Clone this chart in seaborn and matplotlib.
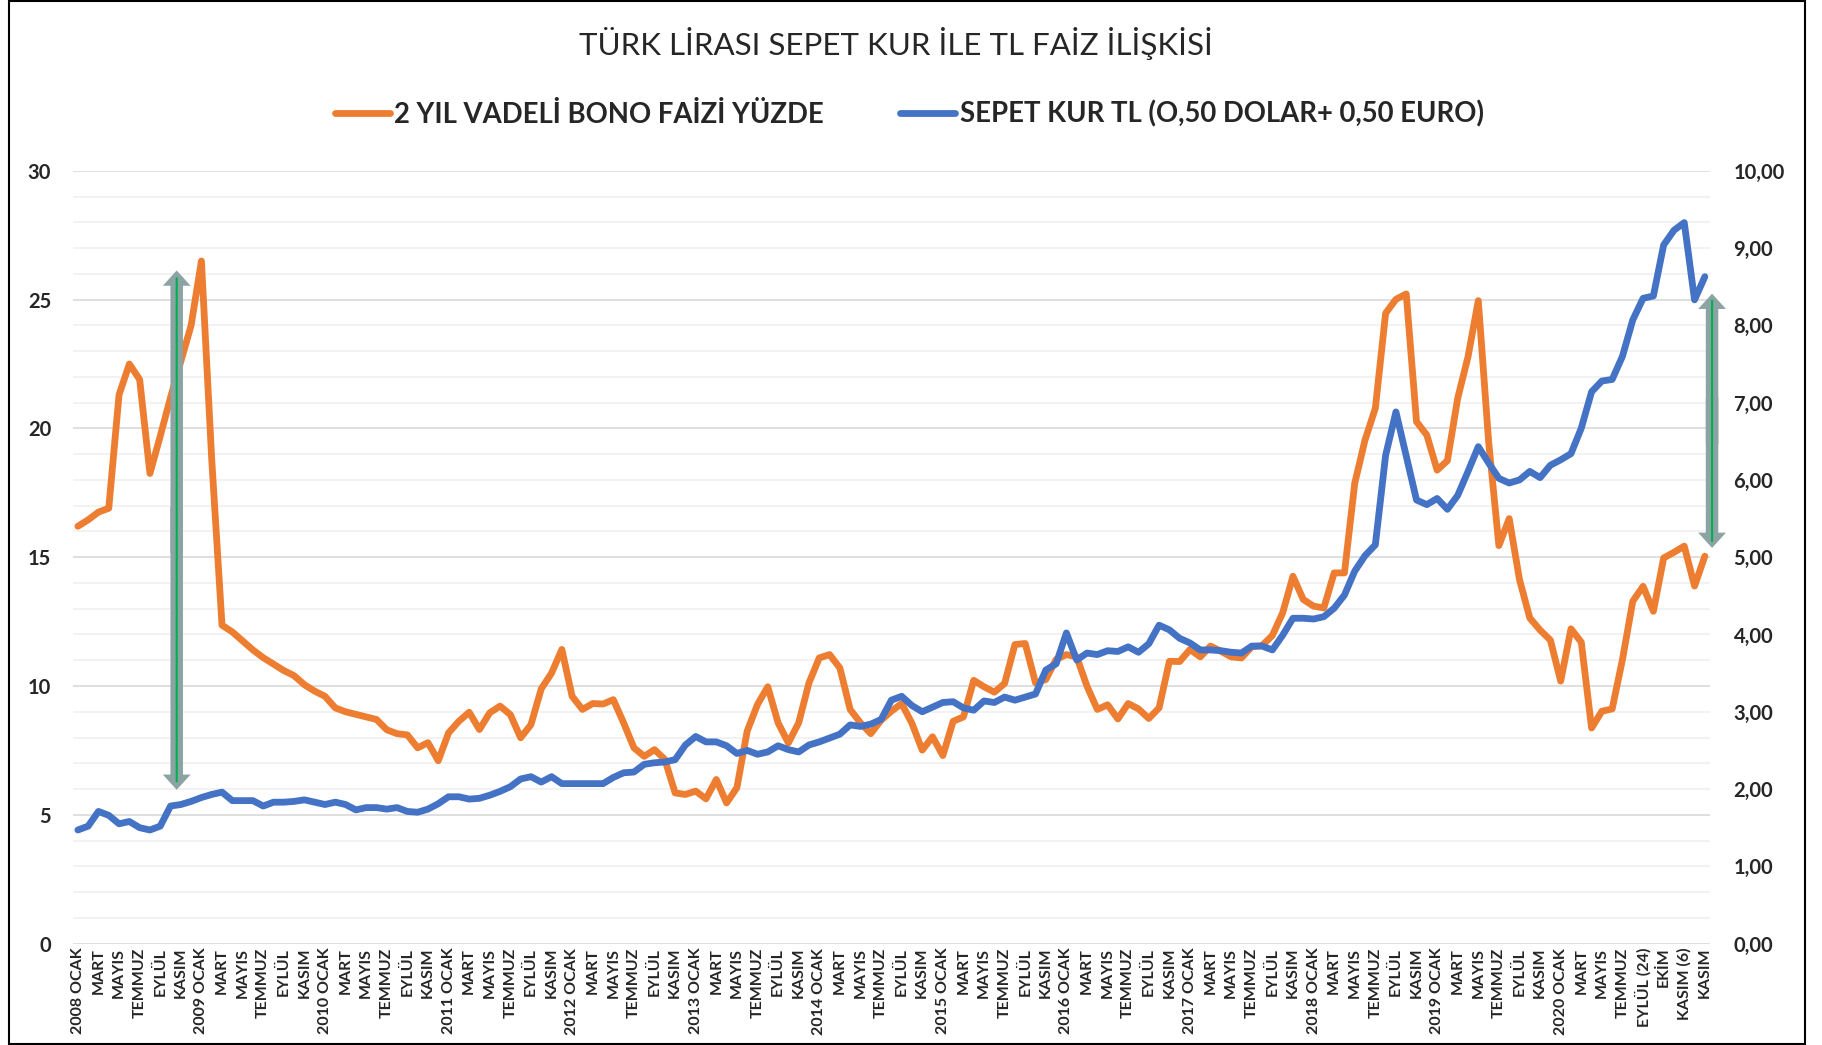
import pandas as pd
import matplotlib
matplotlib.use("Agg")
import matplotlib.pyplot as plt
import seaborn as sns
from matplotlib.ticker import MultipleLocator, FuncFormatter
from matplotlib.lines import Line2D
from matplotlib.patches import Rectangle

# ---------------- data ----------------
years = list(range(2008, 2021))
month_names = ["OCAK", "ŞUBAT", "MART", "NİSAN", "MAYIS", "HAZİRAN",
               "TEMMUZ", "AĞUSTOS", "EYLÜL", "EKİM", "KASIM", "ARALIK"]
tail_labels = ["AĞUSTOS", "EYLÜL (24)", "", "EKİM", "", "KASIM (6)", "", "KASIM"]

# 2 yil vadeli bono faizi (%), left axis
bono_faizi = [
    16.2, 16.45, 16.75, 16.9, 21.3, 22.5, 21.9, 18.25, 19.7, 21.2, 22.6, 24.0, 26.5, 18.8,
    12.36, 12.1, 11.75, 11.4, 11.1, 10.85, 10.6, 10.4, 10.05, 9.8, 9.6, 9.15, 9.0, 8.9,
    8.8, 8.7, 8.3, 8.15, 8.1, 7.6, 7.8, 7.1,
    8.18, 8.63, 8.98, 8.31, 8.96, 9.22, 8.89, 7.99, 8.5, 9.89, 10.5, 11.42, 9.6, 9.09,
    9.32, 9.3, 9.47, 8.57, 7.6, 7.27, 7.53, 7.15, 5.85, 5.79, 5.92, 5.62, 6.37, 5.46,
    6.05, 8.25, 9.28, 9.97, 8.57, 7.79, 8.57, 10.12, 11.09, 11.22, 10.7, 9.09, 8.57, 8.15,
    8.67, 9.02, 9.32, 8.55,
    7.51, 8.03, 7.30, 8.63, 8.80, 10.22, 9.97, 9.76, 10.10, 11.61, 11.65, 10.12, 10.25,
    11.03, 11.22, 11.13, 9.99, 9.09, 9.27, 8.72, 9.32, 9.11, 8.74, 9.15, 10.96, 10.95,
    11.42, 11.13, 11.55, 11.35, 11.13, 11.09, 11.52, 11.57, 11.96, 12.84, 14.26, 13.36,
    13.10, 13.03, 14.39, 14.39,
    17.87, 19.55, 20.78, 24.47, 25.01, 25.22, 20.26, 19.74, 18.38, 18.75, 21.17, 22.78,
    24.96, 19.5, 15.45, 16.5, 14.13, 12.64, 12.17, 11.78, 10.19, 12.22, 11.70, 8.37,
    9.02, 9.11, 11.03, 13.29, 13.87, 12.90, 14.97, 15.19, 15.43, 13.88, 15.04,
]

# sepet kur TL (0,50 dolar + 0,50 euro), right axis
sepet_kur = [
    1.47, 1.52, 1.71, 1.66, 1.55, 1.58, 1.50, 1.47, 1.52, 1.78, 1.80, 1.84, 1.89, 1.93,
    1.96, 1.85, 1.85, 1.85, 1.78, 1.83, 1.83, 1.84, 1.86, 1.83, 1.80, 1.83, 1.80, 1.73,
    1.76, 1.76, 1.74, 1.76, 1.71, 1.70, 1.74, 1.81,
    1.90, 1.90, 1.87, 1.88, 1.92, 1.97, 2.03, 2.13, 2.16, 2.09, 2.16, 2.07, 2.07, 2.07,
    2.07, 2.07, 2.15, 2.21, 2.22, 2.32, 2.34, 2.35, 2.38, 2.57, 2.68, 2.61, 2.61, 2.56,
    2.46, 2.50, 2.45, 2.48, 2.56, 2.51, 2.48, 2.57, 2.61, 2.66, 2.71, 2.83, 2.81, 2.84,
    2.90, 3.15, 3.20, 3.08,
    3.00, 3.06, 3.12, 3.13, 3.05, 3.02, 3.14, 3.12, 3.19, 3.15, 3.19, 3.23, 3.54, 3.62,
    4.02, 3.67, 3.76, 3.74, 3.79, 3.78, 3.84, 3.77, 3.88, 4.12, 4.06, 3.95, 3.89, 3.80,
    3.80, 3.79, 3.77, 3.76, 3.85, 3.85, 3.80, 3.99, 4.21, 4.21, 4.20, 4.23, 4.34, 4.51,
    4.82, 5.02, 5.16, 6.32, 6.88, 6.31, 5.74, 5.68, 5.76, 5.62, 5.80, 6.11, 6.43, 6.22,
    6.02, 5.96, 6.00, 6.11, 6.03, 6.19, 6.26, 6.34, 6.67, 7.14, 7.28, 7.30, 7.60, 8.07,
    8.35, 8.38, 9.04, 9.23, 9.33, 8.33, 8.63,
]

# category labels: "2008 OCAK", "ŞUBAT", ... up to 2020 TEMMUZ, then the extra autumn points
labels = []
for y in years:
    for m, name in enumerate(month_names):
        if y == 2020 and m > 6:
            break
        labels.append(f"{y} {name}" if m == 0 else name)
labels += tail_labels

df = pd.DataFrame({"idx": range(len(labels)), "donem": labels,
                   "bono": bono_faizi, "sepet": sepet_kur})

ORANGE = "#ED7D31"
BLUE = "#4472C4"
ARROW_GREY = "#8BA3A3"
ARROW_GREEN = "#00B050"

sns.set_theme(style="white")
plt.rcParams["font.family"] = ["Lato", "DejaVu Sans"]
plt.rcParams["font.weight"] = "bold"

W, H = 1822, 1045
fig = plt.figure(figsize=(W / 100, H / 100), dpi=100)
ax = fig.add_axes([72.7 / W, 1 - 943.6 / H, (1710 - 72.7) / W, (943.6 - 170.8) / H])
ax2 = ax.twinx()

line_kw = dict(linewidth=4.9, solid_joinstyle="round", solid_capstyle="round")
sns.lineplot(data=df, x="idx", y="bono", ax=ax, color=ORANGE, **line_kw)
sns.lineplot(data=df, x="idx", y="sepet", ax=ax2, color=BLUE, **line_kw)

ax.set_xlim(-0.5, len(labels) - 0.5)
ax.set_ylim(0, 30)
ax2.set_ylim(0, 10)

ax.set_xticks(df["idx"][::2])
ax.set_xticklabels(df["donem"][::2], rotation=90, fontsize=11.5)
ax.yaxis.set_major_locator(MultipleLocator(5))
ax.yaxis.set_minor_locator(MultipleLocator(1))
ax2.yaxis.set_major_locator(MultipleLocator(1))
ax2.yaxis.set_major_formatter(FuncFormatter(lambda v, _: f"{v:.2f}".replace(".", ",")))

ax.set_axisbelow(True)
ax.grid(which="major", axis="y", color="#d9d9d9", linewidth=1.2)
ax.grid(which="minor", axis="y", color="#f0f0f0", linewidth=1.2)
ax.grid(axis="x", visible=False)
ax2.grid(False)

ax.tick_params(axis="x", length=0, pad=3)
ax.tick_params(axis="y", which="both", length=0, pad=15.5, labelsize=14.5)
ax2.tick_params(axis="y", length=0, pad=17, labelsize=14.5)
for a in (ax, ax2):
    a.set_xlabel("")
    a.set_ylabel("")
    for s in a.spines.values():
        s.set_visible(False)

# double headed arrows (right axis units)
arrows = [(9.6, 8.71, 1.99, 8.61, 2.10), (158.7, 8.41, 5.12, 8.32, 5.21)]
head = "simple,head_length=1.1,head_width=2.0,tail_width=0.9"
for x, top, bot, g_top, g_bot in arrows:
    mid = (top + bot) / 2
    for tip, start in ((top, mid - 0.3), (bot, mid + 0.3)):
        ax2.annotate("", xy=(x, tip), xytext=(x, start),
                     arrowprops=dict(arrowstyle=head, mutation_scale=10, color=ARROW_GREY,
                                     lw=0, shrinkA=0, shrinkB=0),
                     annotation_clip=False)
    ax2.annotate("", xy=(x, g_top), xytext=(x, g_bot),
                 arrowprops=dict(arrowstyle="-", color=ARROW_GREEN, lw=1.5,
                                 shrinkA=0, shrinkB=0),
                 annotation_clip=False)

fig.text(896 / W, 1 - 44 / H, "TÜRK LİRASI SEPET KUR İLE TL FAİZ İLİŞKİSİ",
         ha="center", va="center", fontsize=22.5, fontweight="normal")

handles = [Line2D([], [], color=ORANGE, lw=4.9, solid_capstyle="round"),
           Line2D([], [], color=BLUE, lw=4.9, solid_capstyle="round")]
fig.legend(handles, ["2 YIL VADELİ BONO FAİZİ YÜZDE", "SEPET KUR TL (O,50 DOLAR+ 0,50 EURO)"],
           loc="center", bbox_to_anchor=(909 / W, 1 - 114 / H), ncol=2, frameon=False,
           handlelength=2.0, handletextpad=0.15, columnspacing=2.8,
           prop=dict(weight="bold", size=19.8))

fig.patches.append(Rectangle((9 / W, 1 / H), (1805 - 9) / W, (1044 - 1) / H,
                             transform=fig.transFigure, fill=False, ec="black", lw=1.5))

fig.savefig("out.png", dpi=100)
